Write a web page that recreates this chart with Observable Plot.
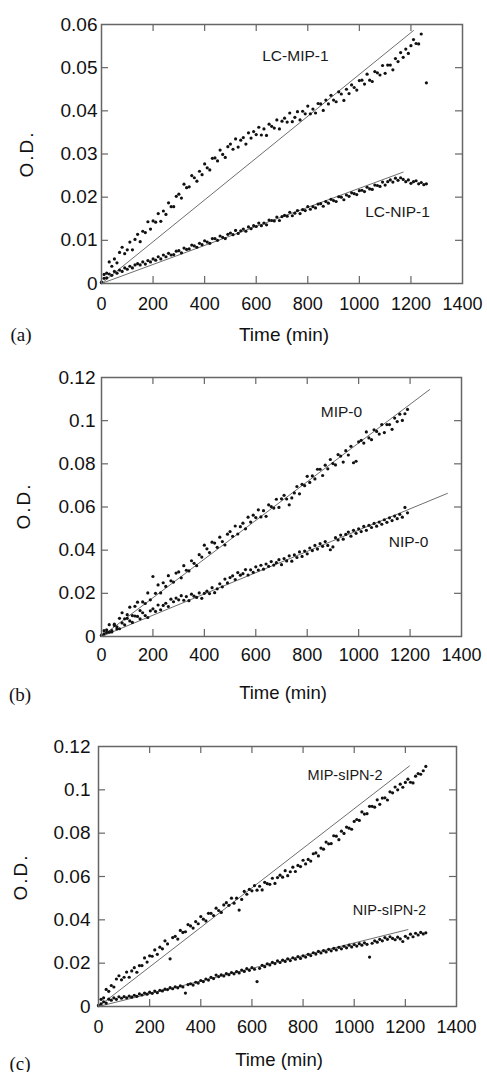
<!DOCTYPE html>
<html><head><meta charset="utf-8">
<script src="https://cdn.jsdelivr.net/npm/d3@7"></script>
<script src="https://cdn.jsdelivr.net/npm/@observablehq/plot@0.6"></script>
<style>
html,body{margin:0;padding:0;background:#fff;}
#page{position:relative;width:487px;height:1072px;overflow:hidden;font-family:"Liberation Sans",Arial,sans-serif;color:#111;}
.panel{position:absolute;left:0;}
.lbl{position:absolute;white-space:nowrap;line-height:1;transform:translate(-50%,-50%);}
</style></head><body><div id="page"></div>
<script>
// ---------- data (time in min, O.D.) ----------
const timeA = [0,10,20,30,40,50,60,70,80,90,100,110,120,130,140,150,160,170,180,190,
200,210,220,230,240,250,260,270,280,290,300,310,320,330,340,350,360,370,380,390,
400,410,420,430,440,450,460,470,480,490,500,510,520,530,540,550,560,570,580,590,
600,610,620,630,640,650,660,670,680,690,700,710,720,730,740,750,760,770,780,790,
800,810,820,830,840,850,860,870,880,890,900,910,920,930,940,950,960,970,980,990,
1000,1010,1020,1030,1040,1050,1060,1070,1080,1090,1100,1110,1120,1130,1140,1150,1160,1170,1180,1190,
1200,1210,1220,1230,1240,1250,1260];
const lcMip1 = [0.0003,0.0021,0.0024,0.0050,0.0040,0.0057,0.0048,0.0072,0.0084,0.0069,
0.0078,0.0096,0.0078,0.0102,0.0114,0.0097,0.0121,0.0118,0.0143,0.0126,
0.0145,0.0142,0.0162,0.0144,0.0168,0.0160,0.0187,0.0178,0.0178,0.0202,
0.0207,0.0198,0.0230,0.0222,0.0224,0.0250,0.0245,0.0237,0.0260,0.0252,
0.0277,0.0268,0.0263,0.0290,0.0291,0.0284,0.0309,0.0299,0.0292,0.0317,
0.0323,0.0311,0.0335,0.0316,0.0332,0.0338,0.0323,0.0349,0.0337,0.0352,
0.0345,0.0362,0.0344,0.0358,0.0343,0.0369,0.0364,0.0360,0.0379,0.0358,
0.0376,0.0383,0.0374,0.0395,0.0375,0.0385,0.0398,0.0379,0.0399,0.0393,
0.0411,0.0393,0.0404,0.0395,0.0417,0.0416,0.0401,0.0425,0.0416,0.0436,
0.0425,0.0421,0.0444,0.0439,0.0424,0.0450,0.0440,0.0460,0.0454,0.0448,
0.0470,0.0471,0.0462,0.0485,0.0471,0.0468,0.0491,0.0488,0.0483,0.0505,
0.0487,0.0506,0.0506,0.0495,0.0521,0.0514,0.0535,0.0524,0.0543,0.0533,
0.0551,0.0565,0.0556,0.0555,0.0578,null,0.0465];
const lcNip1 = [0.0002,0.0012,0.0013,0.0022,0.0019,0.0028,0.0024,0.0031,0.0028,0.0036,
0.0033,0.0040,0.0036,0.0043,0.0046,0.0043,0.0050,0.0045,0.0053,0.0050,
0.0057,0.0054,0.0062,0.0057,0.0066,0.0062,0.0070,0.0066,0.0067,0.0075,
0.0076,0.0071,0.0082,0.0079,0.0080,0.0089,0.0087,0.0084,0.0093,0.0090,
0.0099,0.0096,0.0093,0.0104,0.0104,0.0100,0.0110,0.0107,0.0104,0.0114,
0.0117,0.0113,0.0123,0.0116,0.0122,0.0126,0.0121,0.0131,0.0127,0.0134,
0.0132,0.0140,0.0134,0.0140,0.0136,0.0147,0.0146,0.0145,0.0154,0.0146,
0.0155,0.0158,0.0156,0.0165,0.0157,0.0163,0.0169,0.0162,0.0171,0.0169,
0.0178,0.0172,0.0178,0.0175,0.0184,0.0185,0.0179,0.0190,0.0186,0.0195,
0.0192,0.0190,0.0201,0.0200,0.0194,0.0205,0.0202,0.0210,0.0208,0.0206,
0.0215,0.0216,0.0213,0.0223,0.0219,0.0218,0.0228,0.0227,0.0225,0.0235,
0.0228,0.0236,0.0240,0.0235,0.0244,0.0239,0.0245,0.0241,0.0236,0.0240,
0.0232,0.0236,0.0238,0.0231,0.0234,0.0229,0.0231];

const timeB = [0,10,20,30,40,50,60,70,80,90,100,110,120,130,140,150,160,170,180,190,
200,210,220,230,240,250,260,270,280,290,300,310,320,330,340,350,360,370,380,390,
400,410,420,430,440,450,460,470,480,490,500,510,520,530,540,550,560,570,580,590,
600,610,620,630,640,650,660,670,680,690,700,710,720,730,740,750,760,770,780,790,
800,810,820,830,840,850,860,870,880,890,900,910,920,930,940,950,960,970,980,990,
1000,1010,1020,1030,1040,1050,1060,1070,1080,1090,1100,1110,1120,1130,1140,1150,1160,1170,1180,1190];
const mip0 = [0.0005,0.0027,0.0019,0.0055,0.0027,0.0057,0.0035,0.0084,0.0110,0.0082,
0.0101,0.0136,0.0097,0.0140,0.0159,0.0120,0.0160,0.0153,0.0202,0.0170,
0.0278,0.0200,0.0239,0.0202,0.0249,0.0232,0.0282,0.0258,0.0252,0.0294,
0.0299,0.0272,0.0328,0.0307,0.0304,0.0351,0.0339,0.0328,0.0379,0.0368,
0.0423,0.0406,0.0389,0.0437,0.0433,0.0413,0.0460,0.0440,0.0424,0.0474,
0.0486,0.0464,0.0512,0.0475,0.0509,0.0525,0.0499,0.0553,0.0530,0.0562,
0.0551,0.0587,0.0554,0.0583,0.0557,0.0610,0.0602,0.0595,0.0636,0.0598,
0.0638,0.0654,0.0637,0.0610,0.0642,0.0665,0.0695,0.0661,0.0705,0.0699,
0.0742,0.0714,0.0744,0.0730,0.0775,0.0775,0.0746,0.0794,0.0777,0.0820,
0.0801,0.0795,0.0843,0.0836,0.0808,0.0861,0.0841,0.0881,0.0805,0.0812,
0.0902,0.0909,0.0896,0.0948,0.0920,0.0912,0.0958,0.0950,0.0938,0.0982,
0.0945,0.0982,0.0982,0.0960,0.1012,0.0996,0.1030,0.1001,0.1032,0.1052];
const nip0 = [0.0006,0.0012,0.0031,0.0020,0.0021,0.0051,0.0045,0.0036,0.0063,0.0054,
0.0084,0.0072,0.0065,0.0095,0.0093,0.0082,0.0110,0.0097,0.0088,0.0119,
0.0128,0.0116,0.0146,0.0124,0.0144,0.0154,0.0139,0.0173,0.0161,0.0178,
0.0170,0.0189,0.0168,0.0185,0.0166,0.0196,0.0187,0.0181,0.0202,0.0177,
0.0200,0.0210,0.0199,0.0226,0.0203,0.0221,0.0244,0.0230,0.0266,0.0248,
0.0273,0.0281,0.0264,0.0296,0.0284,0.0291,0.0310,0.0285,0.0309,0.0297,
0.0323,0.0308,0.0330,0.0312,0.0336,0.0325,0.0347,0.0331,0.0342,0.0356,
0.0333,0.0361,0.0350,0.0374,0.0349,0.0378,0.0366,0.0392,0.0371,0.0396,
0.0383,0.0410,0.0398,0.0422,0.0405,0.0430,0.0418,0.0440,0.0422,0.0402,
0.0415,0.0458,0.0447,0.0470,0.0451,0.0473,0.0484,0.0465,0.0492,0.0478,
0.0499,0.0486,0.0510,0.0492,0.0515,0.0505,0.0524,0.0511,0.0530,0.0520,
0.0541,0.0529,0.0550,0.0537,0.0558,0.0546,0.0566,0.0553,0.0598,0.0573];

const timeC = [0,10,20,30,40,50,60,70,80,90,100,110,120,130,140,150,160,170,180,190,
200,210,220,230,240,250,260,270,280,290,300,310,320,330,340,350,360,370,380,390,
400,410,420,430,440,450,460,470,480,490,500,510,520,530,540,550,560,570,580,590,
600,610,620,630,640,650,660,670,680,690,700,710,720,730,740,750,760,770,780,790,
800,810,820,830,840,850,860,870,880,890,900,910,920,930,940,950,960,970,980,990,
1000,1010,1020,1030,1040,1050,1060,1070,1080,1090,1100,1110,1120,1130,1140,1150,1160,1170,1180,1190,
1200,1210,1220,1230,1240,1250,1260,1270,1280];
const mipSipn2 = [0.0005,0.0033,0.0040,0.0079,0.0070,0.0097,0.0090,0.0127,0.0142,0.0123,
0.0135,0.0159,0.0135,0.0164,0.0179,0.0158,0.0189,0.0189,0.0224,0.0205,
0.0234,0.0232,0.0261,0.0241,0.0274,0.0266,0.0303,0.0289,0.0220,0.0318,
0.0324,0.0311,0.0351,0.0342,0.0345,0.0378,0.0372,0.0362,0.0392,0.0382,
0.0415,0.0403,0.0395,0.0430,0.0430,0.0420,0.0454,0.0443,0.0434,0.0469,
0.0479,0.0467,0.0500,0.0477,0.0500,0.0445,0.0494,0.0531,0.0518,0.0541,
0.0534,0.0558,0.0537,0.0555,0.0538,0.0573,0.0567,0.0564,0.0592,0.0568,
0.0595,0.0606,0.0597,0.0627,0.0604,0.0622,0.0643,0.0623,0.0651,0.0646,
0.0675,0.0658,0.0679,0.0671,0.0705,0.0709,0.0695,0.0731,0.0726,0.0759,
0.0751,0.0752,0.0788,0.0786,0.0770,0.0809,0.0799,0.0828,0.0823,0.0818,
0.0854,0.0863,0.0859,0.0898,0.0888,0.0890,0.0924,0.0924,0.0920,0.0954,
0.0933,0.0962,0.0963,0.0953,0.0991,0.0986,0.1013,0.1000,0.1026,0.1012,
0.1034,0.1049,0.1035,0.1032,0.1063,0.1075,0.1072,0.1088,0.1108];
const nipSipn2 = [0.0004,0.0012,0.0022,0.0016,0.0034,0.0029,0.0040,0.0033,0.0045,0.0038,
0.0046,0.0040,0.0048,0.0043,0.0052,0.0047,0.0058,0.0053,0.0062,0.0057,
0.0066,0.0061,0.0071,0.0064,0.0075,0.0072,0.0080,0.0078,0.0087,0.0082,
0.0091,0.0086,0.0095,0.0090,0.0062,0.0101,0.0105,0.0099,0.0112,0.0108,
0.0120,0.0115,0.0127,0.0122,0.0135,0.0129,0.0145,0.0138,0.0146,0.0141,
0.0152,0.0147,0.0157,0.0151,0.0161,0.0155,0.0168,0.0162,0.0175,0.0167,
0.0179,0.0172,0.0115,0.0176,0.0190,0.0184,0.0197,0.0192,0.0204,0.0198,
0.0211,0.0203,0.0214,0.0208,0.0220,0.0212,0.0225,0.0218,0.0230,0.0222,
0.0234,0.0228,0.0241,0.0235,0.0248,0.0242,0.0254,0.0247,0.0258,0.0252,
0.0264,0.0257,0.0268,0.0261,0.0273,0.0266,0.0278,0.0271,0.0283,0.0275,
0.0286,0.0279,0.0290,0.0283,0.0294,0.0287,0.0228,0.0292,0.0303,0.0297,
0.0310,0.0303,0.0318,0.0310,0.0322,0.0314,0.0308,0.0320,0.0312,0.0300,
0.0324,0.0316,0.0334,0.0322,0.0338,0.0330,0.0342,0.0335,0.0340];

// linear fits (end points: time, O.D.)
const fitLcMip1T = [0, 1210], fitLcMip1V = [0, 0.0586];
const fitLcNip1T = [0, 1170], fitLcNip1V = [0, 0.0258];
const fitMip0T = [0, 1276], fitMip0V = [0, 0.1144];
const fitNip0T = [0, 1345], fitNip0V = [0, 0.0663];
const fitMipSipn2T = [0, 1216], fitMipSipn2V = [0, 0.1110];
const fitNipSipn2T = [0, 1210], fitNipSipn2V = [0, 0.0355];

// ticks
const xTickLabels = [0,200,400,600,800,1000,1200,1400];
const yTicksA = [0,0.01,0.02,0.03,0.04,0.05,0.06];
const yTicksBC = [0,0.02,0.04,0.06,0.08,0.1,0.12];

// series labels (name, time, O.D.)
const seriesNamesA = ["LC-MIP-1","LC-NIP-1"], labelTA = [752,1148], labelVA = [0.0526,0.0165];
const seriesNamesB = ["MIP-0","NIP-0"], labelTB = [933,1194], labelVB = [0.104,0.0438];
const seriesNamesC = ["MIP-sIPN-2","NIP-sIPN-2"], labelTC = [964,1138], labelVC = [0.1066,0.0443];

// ---------- drawing ----------
const page = document.getElementById("page");
const W = 487;

function addLabel(text, x, y, o = {}) {
  const d = document.createElement("div");
  d.className = "lbl";
  d.textContent = text;
  d.style.left = x + "px";
  d.style.top = y + "px";
  d.style.fontSize = (o.size || 19) + "px";
  if (o.family) d.style.fontFamily = o.family;
  if (o.spacing) d.style.letterSpacing = o.spacing + "px";
  if (o.rotate) d.style.transform = "translate(-50%,-50%) rotate(-90deg)";
  page.appendChild(d);
}

function panel(o) {
  const fw = W - o.ml - o.mr, fh = o.height - o.mt - o.mb;
  const pts = [];
  o.series.forEach(s => s.t.forEach((t, i) => { if (s.v[i] != null) pts.push({t, v: s.v[i], name: s.name}); }));
  const fits = o.fits.flatMap(f => f.t.map((t, i) => ({t, v: f.v[i], name: f.name})));
  const labels = o.names.map((n, i) => ({text: n, t: o.labelT[i], v: o.labelV[i]}));
  const xInner = xTickLabels.slice(1, -1);
  const yInner = o.yTicks.slice(1, -1);
  const svg = Plot.plot({
    width: W, height: o.height,
    marginTop: o.mt, marginRight: o.mr, marginBottom: o.mb, marginLeft: o.ml,
    style: {fontFamily: "'Liberation Sans', Arial, sans-serif", fontSize: "18px", color: "#111", background: "transparent", overflow: "visible"},
    x: {domain: [0, 1400]},
    y: {domain: [o.yTicks[0], o.yTicks[o.yTicks.length - 1]]},
    marks: [
      Plot.line(fits, {x: "t", y: "v", z: "name", stroke: "#6e6e6e", strokeWidth: 1}),
      Plot.dot(pts, {x: "t", y: "v", r: 1.6, fill: "#111", stroke: "none"}),
      Plot.ruleX(xInner, {x: d => d, insetTop: fh - 7, stroke: "#666", strokeWidth: 1.2}),
      Plot.ruleX(xInner, {x: d => d, insetBottom: fh - 7, stroke: "#666", strokeWidth: 1.2}),
      Plot.ruleY(yInner, {y: d => d, insetRight: fw - 7, stroke: "#666", strokeWidth: 1.2}),
      Plot.ruleY(yInner, {y: d => d, insetLeft: fw - 7, stroke: "#666", strokeWidth: 1.2}),
      Plot.axisX({ticks: xTickLabels, tickSize: 0, tickPadding: o.xPad, tickFormat: d => String(d), label: null, fontSize: 18}),
      Plot.axisY({ticks: o.yTicks, tickSize: 0, tickPadding: o.yPad, tickFormat: d => String(d), label: null, fontSize: 19}),
      Plot.text(labels, {x: "t", y: "v", text: "text", fontSize: o.labelSize, fill: "#1a1a1a"}),
      Plot.frame({stroke: "#666", strokeWidth: 1.5})
    ]
  });
  const holder = document.createElement("div");
  holder.className = "panel";
  holder.style.top = o.top + "px";
  holder.appendChild(svg);
  page.appendChild(holder);
}

// (a)
panel({
  top: 0, height: 340, mt: 24, mr: 25, mb: 57, ml: 101,
  yTicks: yTicksA, xPad: 14, yPad: 4, labelSize: 15.5,
  series: [{name: "LC-MIP-1", t: timeA, v: lcMip1}, {name: "LC-NIP-1", t: timeA, v: lcNip1}],
  fits: [{name: "LC-MIP-1", t: fitLcMip1T, v: fitLcMip1V}, {name: "LC-NIP-1", t: fitLcNip1T, v: fitLcNip1V}],
  names: seriesNamesA, labelT: labelTA, labelV: labelVA
});
// (b)
panel({
  top: 345, height: 340, mt: 32, mr: 26, mb: 49, ml: 101,
  yTicks: yTicksBC, xPad: 12, yPad: 6, labelSize: 15.5,
  series: [{name: "MIP-0", t: timeB, v: mip0}, {name: "NIP-0", t: timeB, v: nip0}],
  fits: [{name: "MIP-0", t: fitMip0T, v: fitMip0V}, {name: "NIP-0", t: fitNip0T, v: fitNip0V}],
  names: seriesNamesB, labelT: labelTB, labelV: labelVB
});
// (c)
panel({
  top: 710, height: 330, mt: 36, mr: 31, mb: 34, ml: 98,
  yTicks: yTicksBC, xPad: 14, yPad: 8, labelSize: 14.5,
  series: [{name: "MIP-sIPN-2", t: timeC, v: mipSipn2}, {name: "NIP-sIPN-2", t: timeC, v: nipSipn2}],
  fits: [{name: "MIP-sIPN-2", t: fitMipSipn2T, v: fitMipSipn2V}, {name: "NIP-sIPN-2", t: fitNipSipn2T, v: fitNipSipn2V}],
  names: seriesNamesC, labelT: labelTC, labelV: labelVC
});

// axis titles and panel letters
const serif = "'Liberation Serif', 'Times New Roman', serif";
addLabel("Time (min)", 284, 334, {size: 19});
addLabel("(a)", 21, 334, {size: 19, family: serif});
addLabel("O.D.", 26, 153.5, {size: 19, rotate: true, spacing: 2});
addLabel("Time (min)", 283, 693, {size: 18.5});
addLabel("(b)", 20, 694, {size: 19, family: serif});
addLabel("O.D.", 23, 506, {size: 19, rotate: true, spacing: 2});
addLabel("Time (min)", 279, 1060, {size: 18.5});
addLabel("(c)", 20, 1063, {size: 19, family: serif});
addLabel("O.D.", 20, 877, {size: 19, rotate: true, spacing: 2});
</script>
</body></html>
